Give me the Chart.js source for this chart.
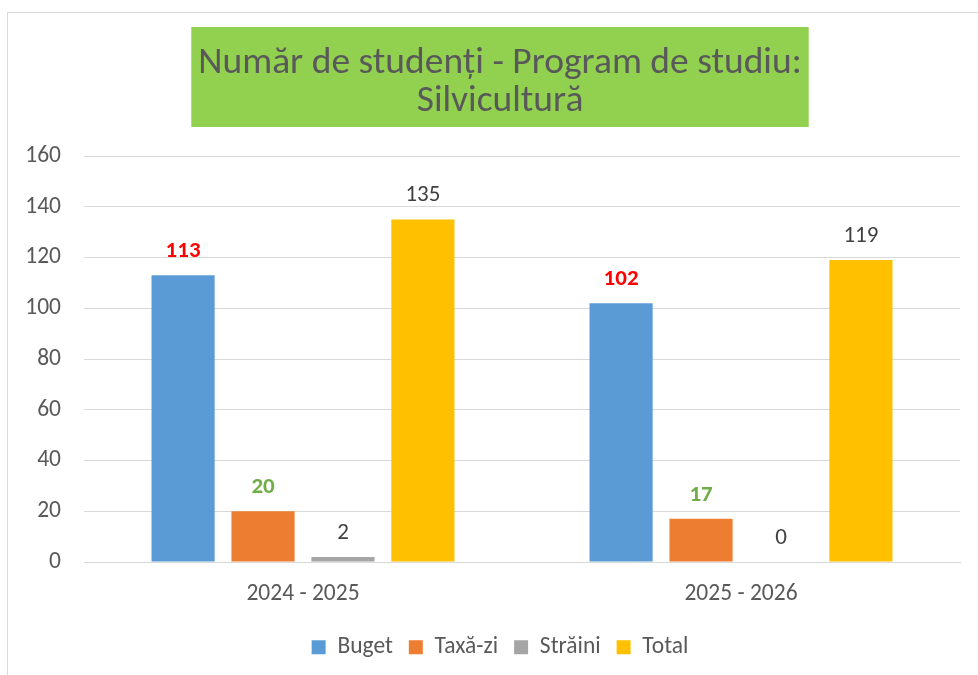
<!DOCTYPE html>
<html>
<head>
<meta charset="utf-8">
<script src="https://cdn.jsdelivr.net/npm/chart.js@4.4.1/dist/chart.umd.min.js"></script>
<style>
  html, body { margin: 0; padding: 0; background: #fff; overflow: hidden; width: 978px; height: 675px; }
  #wrap { position: absolute; left: 7px; top: 12px; width: 990px; height: 680px; border: 1px solid #d9d9d9; background: #fff; }
  canvas { display: block; }
</style>
</head>
<body>
<div id="wrap"><canvas id="c" width="990" height="662"></canvas></div>
<script>
const categories = ['2024 - 2025', '2025 - 2026'];
const seriesNames = ['Buget', 'Taxă-zi', 'Străini', 'Total'];
const buget = [113, 102];
const taxaZi = [20, 17];
const straini = [2, 0];
const total = [135, 119];
const titleLines = ['Număr de studenți - Program de studiu:', 'Silvicultură'];
const yTicks = { min: 0, max: 160, step: 20 };

const FONT = "Carlito, Calibri, Lato, 'Liberation Sans', sans-serif";
const TXT = '#595959';
const TITLE_SIZE = 37.5;

const titleBox = {
  id: 'titleBox',
  beforeDraw(chart) {
    const tb = chart.titleBlock;
    if (!tb) return;
    const ctx = chart.ctx;
    ctx.save();
    ctx.font = TITLE_SIZE + 'px ' + FONT;
    let w = 0;
    titleLines.forEach(t => { w = Math.max(w, ctx.measureText(t).width); });
    const cx = (tb.left + tb.right) / 2;
    const padX = 7;
    const top = tb.top + 14;
    ctx.fillStyle = '#92D050';
    ctx.fillRect(cx - w / 2 - padX, top, w + 2 * padX, 100);
    ctx.restore();
  }
};

const valueLabels = {
  id: 'valueLabels',
  afterDatasetsDraw(chart) {
    const ctx = chart.ctx;
    ctx.save();
    chart.data.datasets.forEach((ds, i) => {
      const meta = chart.getDatasetMeta(i);
      meta.data.forEach((el, j) => {
        ctx.font = (ds.labelBold ? 'bold ' : '') + '23px ' + FONT;
        ctx.fillStyle = ds.labelColor;
        ctx.textAlign = 'center';
        ctx.textBaseline = 'middle';
        ctx.fillText(String(ds.data[j]), el.x, el.y - 24);
      });
    });
    ctx.restore();
  }
};

new Chart(document.getElementById('c'), {
  type: 'bar',
  data: {
    labels: categories,
    datasets: [
      { label: seriesNames[0], data: buget, backgroundColor: '#5B9BD5', labelColor: '#FF0000', labelBold: true },
      { label: seriesNames[1], data: taxaZi, backgroundColor: '#ED7D31', labelColor: '#70AD47', labelBold: true },
      { label: seriesNames[2], data: straini, backgroundColor: '#A5A5A5', labelColor: '#404040', labelBold: false },
      { label: seriesNames[3], data: total, backgroundColor: '#FFC000', labelColor: '#404040', labelBold: false }
    ]
  },
  options: {
    responsive: false,
    animation: false,
    devicePixelRatio: 1,
    categoryPercentage: 0.73,
    barPercentage: 0.79,
    layout: { padding: { left: 32, right: 38, top: 0, bottom: 6 } },
    plugins: {
      title: {
        display: true,
        text: titleLines,
        color: TXT,
        font: { family: FONT, size: TITLE_SIZE, weight: 'normal', lineHeight: 38 / TITLE_SIZE },
        padding: { top: 32, bottom: 35 }
      },
      legend: {
        position: 'bottom',
        labels: {
          color: TXT,
          font: { family: FONT, size: 23.5 },
          boxWidth: 14,
          boxHeight: 14,
          padding: 16
        }
      },
      tooltip: { enabled: false }
    },
    scales: {
      x: {
        afterFit(s) { s.height -= 6; },
        grid: { display: false, drawTicks: false },
        border: { display: true, color: '#D9D9D9' },
        ticks: { color: TXT, font: { family: FONT, size: 23.5, lineHeight: 1 }, padding: 20 }
      },
      y: {
        min: yTicks.min, max: yTicks.max,
        afterFit(s) { s.width = 44; s._computeLabelArea = () => undefined; },
        grid: { color: '#D9D9D9', drawTicks: false },
        border: { display: false },
        ticks: { stepSize: yTicks.step, color: TXT, font: { family: FONT, size: 23.5 }, padding: 23 }
      }
    }
  },
  plugins: [titleBox, valueLabels]
});
</script>
</body>
</html>
